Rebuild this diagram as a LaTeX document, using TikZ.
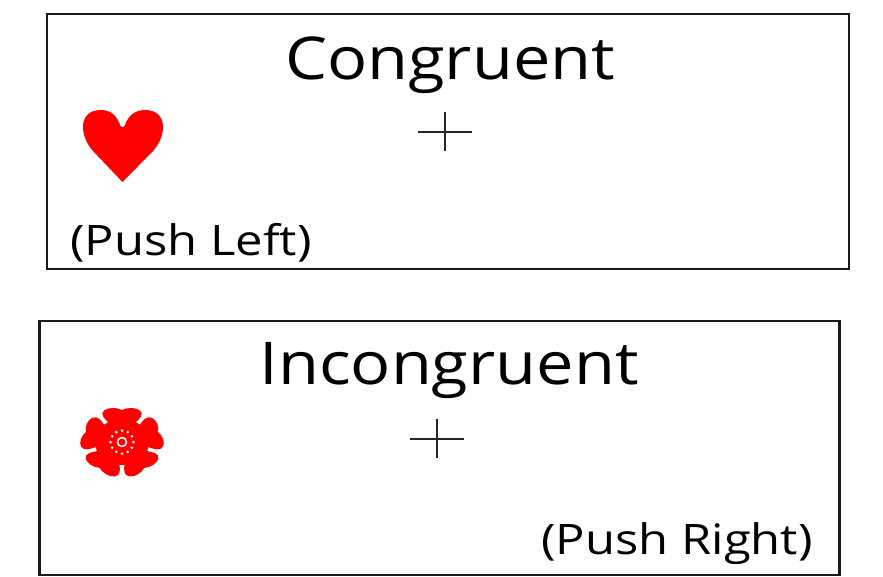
\documentclass[tikz,border=0pt]{standalone}
\usepackage{fontspec}
\setmainfont{Open Sans}
\tikzset{panel/.style={draw=black!90,line width=2.2pt,fill=white},
 title/.style={font=\fontsize{59}{59}\selectfont,inner sep=0,anchor=base,xscale=1.13},
 hint/.style={font=\fontsize{42}{42}\selectfont,inner sep=0,anchor=base,xscale=1.165},
 crossline/.style={draw=black!85,line width=1.5pt}}
\begin{document}
\begin{tikzpicture}[x=1pt,y=-1pt]
\useasboundingbox (0,0) rectangle (883,576);
\node[panel,minimum width=802pt,minimum height=255pt,inner sep=0] (p1) at (448,141.5) {};
\node[panel,minimum width=800pt,minimum height=254pt,inner sep=0] (p2) at (439.5,448) {};
\node[title] (t1) at (450,79) {Congruent};
\node[title] (t2) at (449,384) {Incongruent};
\node[hint] (h1) at (191,255) {(Push Left)};
\node[hint] (h2) at (677,554) {(Push Right)};
\path[crossline] (418,132)--(472,132) (445,112)--(445,151);
\path[crossline] (410,439)--(464,439) (437,419)--(437,458);
\fill[red] (122.5,182) -- (93,151) .. controls (87,144) and (83,136) .. (83,127) .. controls (83,116) and (90,110) .. (101,110) .. controls (111,110) and (117,116) .. (120,125) .. controls (121,128) and (124,128) .. (125,125) .. controls (128,116) and (135,110) .. (145,110) .. controls (156,110) and (163,116) .. (163,127) .. controls (163,136) and (159,144) .. (153,151) -- cycle;
\fill[red,shift={(122,442)},xscale=1.18] (0,0) circle (23);
\foreach \a in {0,72,144,216,288}{
 \fill[red,shift={(122,442)},xscale=1.18,rotate=\a] (0,-32) .. controls (2,-33.5) and (5,-34) .. (8,-34) .. controls (14,-34) and (18.5,-30) .. (16,-25.5) .. controls (15,-24) and (14,-22) .. (12,-20) -- (0,-5) -- (-12,-20) .. controls (-14,-22) and (-15,-24) .. (-16,-25.5) .. controls (-18.5,-30) and (-14,-34) .. (-8,-34) .. controls (-5,-34) and (-2,-33.5) .. (0,-32) -- cycle;}
\foreach \a in {0,30,...,330}{\fill[white] (122,442) ++(\a:11.5) circle (1.5);}
\draw[white,line width=1.5pt] (122,442) circle (4.5);
\end{tikzpicture}
\end{document}
